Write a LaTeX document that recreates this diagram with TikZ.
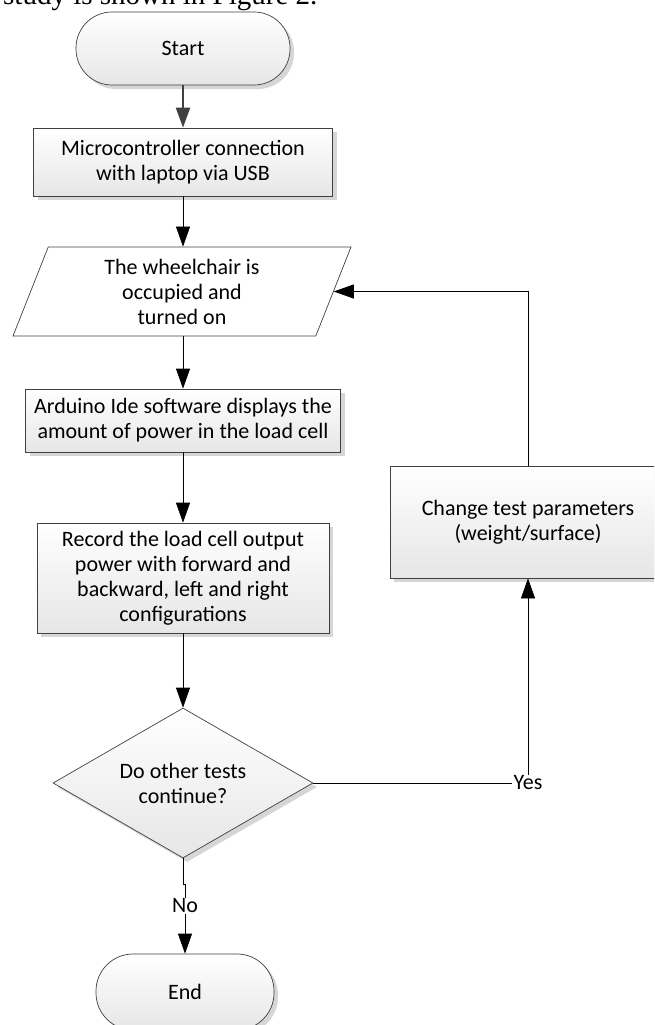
\documentclass[tikz,border=0pt]{standalone}
\usepackage{fontspec}
\setmainfont{Carlito}
\newfontfamily\bodyserif{Liberation Serif}
\usetikzlibrary{arrows.meta,shapes.geometric,shadows}
\definecolor{edge}{HTML}{404040}
\definecolor{fillbot}{HTML}{E6E6E6}
\definecolor{shadowc}{HTML}{D6D6D6}
\definecolor{startarrow}{HTML}{404040}
\tikzset{
  txt/.style={font=\fontsize{22}{25}\selectfont, align=center, text=black},
  base/.style={txt, draw=edge, line width=0.7pt, inner sep=0pt},
  grad/.style={top color=white, bottom color=fillbot},
  shad/.style={drop shadow={shadow xshift=4pt, shadow yshift=-4pt, fill=shadowc, opacity=1}},
  procbox/.style={base, grad, shad, rectangle},
  term/.style={base, grad, shad, rectangle},
  iobox/.style={base, fill=white, trapezium, trapezium left angle=61.7, trapezium right angle=118.3, trapezium stretches body=true},
  decbox/.style={base, grad, shad, diamond, aspect=1.73},
  flow/.style={draw=black, line width=0.7pt, -{Triangle[length=20pt,width=14pt]}},
  plain/.style={draw=black, line width=0.7pt},
  lbl/.style={txt, inner sep=1pt}
}
\begin{document}
\begin{tikzpicture}[x=1pt, y=-1pt]
\useasboundingbox (0,0) rectangle (654,1025);
\clip (0,0) rectangle (654,1025);
\fill[white] (0,0) rectangle (654,1025);

\node[anchor=base west, inner sep=0pt, font=\bodyserif\fontsize{29}{30}\selectfont] (cut) at (3,5) {study is shown in Figure 2.};

\node[term, rounded corners=36pt, minimum width=214pt, minimum height=73pt] (start) at (183,48.5) {Start};
\node[procbox, minimum width=299pt, minimum height=68pt] (conn) at (183,162) {Microcontroller connection\\with laptop via USB};
\node[iobox, minimum width=338pt, minimum height=89pt] (occ) at (182,291.5) {The wheelchair is\\occupied and\\turned on};
\node[procbox, minimum width=315pt, minimum height=63pt] (ardu) at (183,420.5) {Arduino Ide software displays the\\amount of power in the load cell};
\node[procbox, minimum width=292pt, minimum height=110pt] (rec) at (183,578) {Record the load cell output\\power with forward and\\backward, left and right\\configurations};
\node[decbox, minimum width=260pt, minimum height=150pt] (dec) at (183,783) {Do other tests\\continue?};
\node[term, rounded corners=37pt, minimum width=178pt, minimum height=76pt] (end) at (185,992) {End};
\node[procbox, minimum width=276pt, minimum height=112pt] (chg) at (528,522) {Change test parameters\\(weight/surface)};

\node[lbl] (yes) at (528,783) {Yes};
\node[lbl] (no) at (185,906) {No};

\draw[flow, draw=startarrow, line width=2pt] (start.south) -- (conn.north);
\draw[flow] (conn.south) -- (conn.south |- occ.north);
\draw[flow] (ardu.north |- occ.south) -- (ardu.north);
\draw[flow] (ardu.south) -- (rec.north);
\draw[flow] (rec.south) -- (dec.north);
\draw[flow] (chg.north) |- (occ.east);
\draw[plain] (dec.east) -- (yes.west);
\draw[flow] (yes.north) -- (chg.south);
\draw[plain] (dec.south) -- ++(0,26) -| (no.north);
\draw[flow] (no.south) -- (end.north);
\end{tikzpicture}
\end{document}
